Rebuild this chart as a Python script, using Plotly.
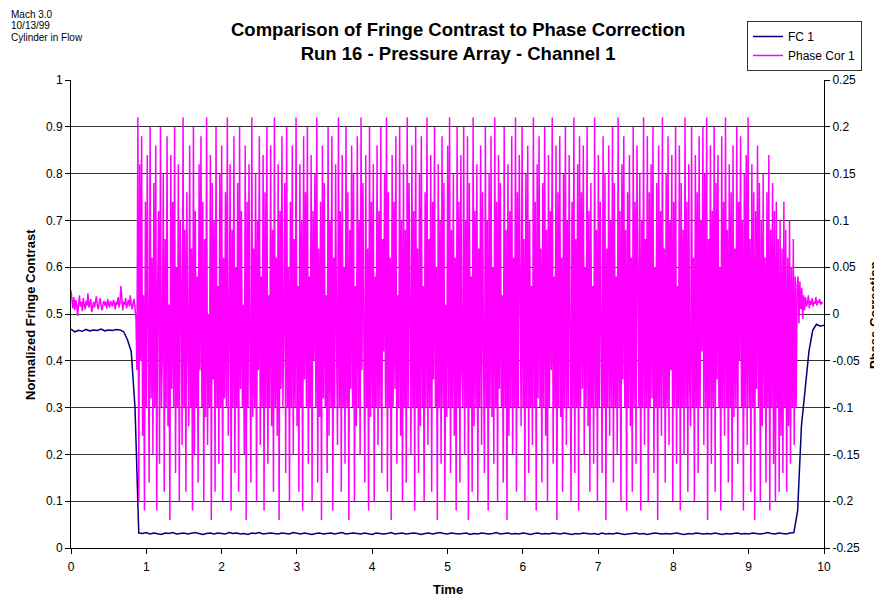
import numpy as np
import plotly.graph_objects as go

# ---------------- data ----------------
# FC 1 (Normalized Fringe Contrast), sampled every 0.05 time units from 0 to 10
fc_start = [0.468, 0.462, 0.465, 0.463, 0.467, 0.464, 0.466, 0.465, 0.468, 0.464,
            0.466, 0.465, 0.467, 0.466, 0.462, 0.445, 0.42, 0.3, 0.032]
fc_flat = [0.031, 0.033, 0.030, 0.032, 0.031, 0.029, 0.032, 0.031, 0.033, 0.030,
           0.031, 0.032, 0.030, 0.031, 0.033, 0.031, 0.029, 0.031, 0.032, 0.030,
           0.032, 0.031, 0.030, 0.033, 0.031, 0.032, 0.030, 0.031, 0.029, 0.032,
           0.031, 0.033, 0.030, 0.031, 0.032, 0.031, 0.030, 0.032, 0.031, 0.030,
           0.033, 0.031, 0.030, 0.032, 0.031, 0.029, 0.031, 0.032, 0.030, 0.031,
           0.032, 0.030, 0.031, 0.033, 0.030, 0.031, 0.032, 0.031, 0.030, 0.032,
           0.031, 0.029, 0.032, 0.031, 0.030, 0.031, 0.033, 0.030, 0.031, 0.032,
           0.030, 0.031, 0.032, 0.031, 0.029, 0.031, 0.032, 0.030, 0.031, 0.033,
           0.031, 0.030, 0.032, 0.031, 0.030, 0.031, 0.032, 0.029, 0.031, 0.030,
           0.032, 0.031, 0.030, 0.031, 0.033, 0.030, 0.031, 0.032, 0.030, 0.031,
           0.030, 0.032, 0.031, 0.029, 0.031, 0.032, 0.030, 0.031, 0.030, 0.032,
           0.031, 0.030, 0.032, 0.031, 0.029, 0.031, 0.030, 0.032, 0.031, 0.030,
           0.031, 0.029, 0.032, 0.030, 0.031, 0.030, 0.032, 0.031, 0.029, 0.030,
           0.031, 0.032, 0.030, 0.031, 0.029, 0.030, 0.032, 0.031, 0.030, 0.031,
           0.030, 0.031, 0.032, 0.030, 0.029, 0.031, 0.030, 0.032, 0.031, 0.030,
           0.031, 0.030, 0.032, 0.031, 0.029, 0.031, 0.030, 0.031, 0.032, 0.030,
           0.031, 0.030, 0.032, 0.031, 0.030, 0.031, 0.033, 0.031, 0.030, 0.032,
           0.031, 0.030, 0.032, 0.033]
fc_end = [0.08, 0.26, 0.34, 0.42, 0.465, 0.478, 0.474, 0.476]
fc1 = fc_start + fc_flat + fc_end

# Phase Cor 1 (Phase Correction), uniformly sampled from 0 to 9.98
phase_start = [
    0.025, 0.012, 0.006, 0.018, 0.004, 0.015, 0.01, -0.002, 0.014, 0.02,
    0.008, 0.013, 0.003, 0.017, 0.01, 0.005, 0.014, 0.009, 0.022, 0.007,
    0.011, 0.016, 0.002, 0.01, 0.013, 0.007, 0.015, 0.019, 0.009, 0.005,
    0.012, 0.017, 0.008, 0.004, 0.011, 0.014, 0.009, 0.013, 0.006, 0.016,
    0.01, 0.007, 0.014, 0.011, 0.008, 0.015, 0.012, 0.005, 0.013, 0.01,
    0.018, 0.007, 0.012, 0.03, 0.009, 0.004, 0.013, 0.01, 0.017, 0.006,
    0.011, 0.015, 0.008, 0.02, 0.01, 0.005, 0.012, 0.016, 0.006, -0.005,
]
phase_osc = [
    -0.06, 0.21, -0.2, 0.16, -0.05, 0.19, -0.13, 0.02, -0.21, 0.12, -0.1, 0.17, -0.02, -0.18, 0.2, -0.09, 0.06, -0.15,
    0.14, -0.1, 0.18, -0.21, 0.03, 0.11, -0.16, 0.2, -0.1, -0.04, 0.15, -0.19, 0.08, -0.1, 0.19, -0.12, 0.01, -0.22,
    0.17, -0.08, 0.12, -0.1, 0.2, -0.17, 0.05, -0.1, 0.16, -0.2, 0.1, 0.02, -0.14, 0.21, -0.1, 0.09, -0.19, 0.13,
    -0.03, -0.12, 0.18, -0.1, 0.07, -0.21, 0.2, -0.15, 0.11, -0.1, 0.04, -0.18, 0.16, -0.06, 0.19, -0.1, 0.12, -0.2,
    0.08, -0.11, 0.21, -0.14, 0.0, -0.1, 0.17, -0.22, 0.14, -0.07, 0.1, -0.19, 0.2, -0.1, 0.03, -0.16, 0.15, -0.1,
    0.18, -0.2, 0.06, -0.09, 0.13, -0.1, 0.21, -0.13, -0.02, 0.16, -0.21, 0.09, -0.1, 0.19, -0.17, 0.05, -0.1, 0.14,
    -0.19, 0.2, -0.08, 0.11, -0.1, 0.01, -0.15, 0.18, -0.22, 0.12, -0.1, 0.16, -0.04, -0.18, 0.21, -0.11, 0.07, -0.1,
    0.15, -0.2, 0.1, -0.06, 0.19, -0.14, 0.04, -0.1, 0.17, -0.21, 0.13, -0.1, 0.2, -0.16, 0.02, -0.1, 0.18, -0.12,
    0.09, -0.19, 0.21, -0.1, 0.06, -0.13, 0.16, -0.22, 0.11, -0.08, 0.19, -0.1, -0.01, 0.14, -0.17, 0.2, -0.1, 0.05,
    -0.2, 0.12, -0.1, 0.18, -0.15, 0.08, -0.1, 0.21, -0.12, 0.03, -0.19, 0.16, -0.1, 0.1, -0.21, 0.19, -0.07, 0.13,
    -0.1, 0.2, -0.16, 0.04, -0.1, 0.17, -0.2, 0.11, -0.05, 0.15, -0.1, 0.21, -0.18, 0.07, -0.11, 0.12, -0.22, 0.18,
    -0.09, 0.14, -0.1, 0.02, -0.17, 0.2, -0.13, 0.1, -0.1, 0.19, -0.21, 0.06, -0.1, 0.16, -0.03, -0.14, 0.21, -0.1,
    0.11, -0.19, 0.17, -0.1, 0.05, -0.16, 0.2, -0.1, 0.13, -0.22, 0.09, -0.08, 0.18, -0.1, 0.15, -0.2, 0.03, -0.12,
    0.19, -0.1, 0.1, -0.15, 0.21, -0.06, 0.14, -0.1, -0.18, 0.17, -0.1, 0.07, -0.21, 0.2, -0.11, 0.12, -0.1, 0.16,
    -0.2, 0.04, -0.1, 0.18, -0.14, 0.11, -0.1, 0.2, -0.17, 0.08, -0.04, 0.15, -0.1, 0.21, -0.19, 0.13, -0.1, 0.06,
    -0.22, 0.17, -0.1, 0.12, -0.08, 0.19, -0.16, 0.02, -0.1, 0.2, -0.13, 0.1, -0.2, 0.16, -0.1, 0.09, -0.18, 0.21,
    -0.1, 0.14, -0.05, -0.15, 0.18, -0.1, 0.11, -0.21, 0.2, -0.1, 0.07, -0.17, 0.15, -0.12, 0.19, -0.1, 0.03, -0.2,
    0.13, -0.1, 0.21, -0.14, 0.08, -0.1, 0.17, -0.19, 0.12, -0.07, 0.2, -0.1, 0.05, -0.22, 0.16, -0.1, 0.1, -0.16,
    0.19, -0.1, 0.14, -0.2, 0.01, -0.11, 0.18, -0.1, 0.21, -0.17, 0.09, -0.1, 0.15, -0.13, 0.06, -0.21, 0.2, -0.1,
    0.12, -0.18, 0.17, -0.06, -0.1, 0.2, -0.15, 0.1, -0.1, 0.19, -0.22, 0.14, -0.1, 0.04, -0.19, 0.21, -0.12, 0.11,
    -0.1, 0.16, -0.2, 0.07, -0.1, 0.18, -0.14, 0.13, -0.03, -0.17, 0.2, -0.1, 0.1, -0.21, 0.15, -0.1, 0.19, -0.11,
    0.05, -0.16, 0.21, -0.1, 0.12, -0.2, 0.17, -0.08, 0.14, -0.1, 0.02, -0.18, 0.2, -0.1, 0.09, -0.22, 0.16, -0.13,
    0.11, -0.1, 0.19, -0.15, 0.06, -0.1, 0.21, -0.19, 0.13, -0.1, 0.17, -0.05, -0.12, 0.2, -0.1, 0.08, -0.2, 0.15,
    -0.1, 0.18, -0.17, 0.1, -0.1, 0.03, -0.14, 0.21, -0.1, 0.12, -0.21, 0.16, -0.09, 0.19, -0.1, 0.07, -0.18, 0.14,
    -0.1, 0.2, -0.13, 0.09, -0.2, 0.17, -0.1, 0.11, -0.06, 0.21, -0.16, 0.04, -0.1, 0.18, -0.22, 0.13, -0.1, 0.19,
    -0.11, 0.06, -0.19, 0.15, -0.1, 0.2, -0.14, 0.1, -0.1, 0.17, -0.02, -0.2, 0.12, -0.1, 0.21, -0.17, 0.08, -0.1,
    0.16, -0.21, 0.19, -0.1, 0.13, -0.08, 0.18, -0.15, 0.05, -0.1, 0.2, -0.12, 0.11, -0.19, 0.14, -0.1, 0.03, -0.16,
    0.21, -0.1, 0.09, -0.2, 0.17, -0.1, 0.12, -0.05, -0.17, 0.19, -0.1, 0.15, -0.22, 0.07, -0.1, 0.18, -0.13, 0.1,
    -0.1, 0.2, -0.18, 0.14, -0.1, 0.04, -0.15, 0.21, -0.1, 0.11, -0.2, 0.16, -0.07, 0.19, -0.1, 0.09, -0.21, 0.13,
    -0.1, 0.17, -0.12, 0.06, -0.19, 0.2, -0.1, 0.12, -0.16, 0.18, -0.03, -0.1, 0.15, -0.21, 0.1, -0.1, 0.21, -0.14,
    0.08, -0.1, 0.19, -0.2, 0.13, -0.1, 0.16, -0.09, 0.2, -0.17, 0.05, -0.1, 0.14, -0.22, 0.18, -0.1, 0.11, -0.13,
    0.21, -0.1, 0.07, -0.18, 0.15, -0.1, 0.19, -0.14, 0.1, -0.06, 0.17, -0.2, 0.12, -0.1, 0.2, -0.16, 0.03, -0.1,
    0.18, -0.21, 0.14, -0.1, 0.09, -0.15, 0.21, -0.1, 0.12, -0.19, 0.16, -0.08, -0.12, 0.2, -0.1, 0.06, -0.2, 0.17,
    -0.1, 0.13, -0.17, 0.19, -0.1, 0.1, -0.04, 0.2, -0.14, 0.15, -0.1, 0.21, -0.22, 0.08, -0.1, 0.18, -0.16, 0.11,
    -0.1, 0.2, -0.19, 0.14, -0.07, 0.17, -0.1, 0.05, -0.21, 0.19, -0.1, 0.12, -0.13, 0.21, -0.1, 0.09, -0.18, 0.16,
    -0.1, 0.13, -0.2, 0.18, -0.11, 0.07, -0.1, 0.2, -0.16, 0.12, -0.05, 0.19, -0.1, 0.1, -0.21, 0.15, -0.1, 0.17,
    -0.14, 0.21, -0.1, 0.08, -0.19, 0.16, -0.1, 0.13, -0.22, 0.11, -0.08, 0.18, -0.1, 0.14, -0.2, 0.1, -0.12, 0.15,
    -0.1, 0.06, -0.18, 0.13, -0.1, 0.17, -0.21, 0.09, -0.1, 0.14, -0.16, 0.11, -0.2, 0.12, -0.1, 0.08, -0.19, 0.1,
    -0.13, 0.07, -0.17, 0.12, -0.1, 0.09, -0.19, 0.06, -0.12, 0.1, -0.16, 0.05, -0.1, 0.08, -0.14, 0.04, -0.1, 0.03,
]
phase_end = [
    0.04, -0.01, 0.035, 0.005, 0.028, -0.005, 0.02, 0.004, 0.018, 0.008,
    0.012, 0.02, 0.006, 0.014, 0.01, 0.017, 0.008, 0.013, 0.011, 0.018,
    0.009, 0.014, 0.012, 0.016, 0.01, 0.013, 0.011,
]
phase1 = phase_start + phase_osc + phase_end

# uniform sampling time bases
t_fc = np.linspace(0, 10, len(fc1))
t_phase = np.linspace(0, 9.98, len(phase1))

left_ticks = [0, 0.1, 0.2, 0.3, 0.4, 0.5, 0.6, 0.7, 0.8, 0.9, 1]
left_labels = ["0", "0.1", "0.2", "0.3", "0.4", "0.5", "0.6", "0.7", "0.8", "0.9", "1"]
right_ticks = [-0.25, -0.2, -0.15, -0.1, -0.05, 0, 0.05, 0.1, 0.15, 0.2, 0.25]
right_labels = ["-0.25", "-0.2", "-0.15", "-0.1", "-0.05", "0", "0.05", "0.1", "0.15", "0.2", "0.25"]
x_ticks = list(range(0, 11))

FONT = "Arial, Liberation Sans, sans-serif"

fig = go.Figure()
fig.add_trace(go.Scatter(x=t_fc, y=fc1, mode="lines", name="FC 1",
                         line=dict(color="#000080", width=1.5)))
fig.add_trace(go.Scatter(x=t_phase, y=phase1, mode="lines", name="Phase Cor 1",
                         line=dict(color="#FF00FF", width=1.5), yaxis="y2"))

# page-pixel geometry of the plot area (page has an 8px body margin)
OFF = 8
L, R, T, B = 71, 824, 80, 548
PW, PH = 882, 599
W, H = PW - OFF, PH - OFF

def px(xp):
    return (xp - L) / (R - L)

def py(yp):
    return (B - yp) / (B - T)

fig.update_layout(
    width=W, height=H,
    margin=dict(l=L - OFF, r=PW - R, t=T - OFF, b=PH - B, autoexpand=False),
    paper_bgcolor="white", plot_bgcolor="white",
    font=dict(family=FONT, size=12, color="black"),
    showlegend=True,
    legend=dict(x=px(747), y=py(21), xanchor="left", yanchor="top",
                bordercolor="#333", borderwidth=1, bgcolor="white",
                font=dict(size=12), tracegroupgap=0, itemwidth=30),
    xaxis=dict(range=[0, 10], tickvals=x_ticks, ticks="outside", ticklen=5,
               tickcolor="black", showgrid=False, zeroline=False,
               ticklabelstandoff=3,
               showline=True, linecolor="black", linewidth=1),
    yaxis=dict(range=[0, 1], tickvals=left_ticks, ticktext=left_labels,
               ticks="outside", ticklen=5, tickcolor="black",
               showgrid=True, gridcolor="#333", gridwidth=1, zeroline=False,
               showline=True, linecolor="black", linewidth=1),
    yaxis2=dict(range=[-0.25, 0.25], tickvals=right_ticks, ticktext=right_labels,
                overlaying="y", side="right", ticks="outside", ticklen=5,
                tickcolor="black", showgrid=False, zeroline=False,
                showline=True, linecolor="black", linewidth=1),
)

annots = [
    dict(text="<b>Comparison of Fringe Contrast to Phase Correction</b><br><b>Run 16 - Pressure Array - Channel 1</b>",
         x=px(458), y=py(41), xanchor="center", yanchor="middle",
         font=dict(size=18.5, family=FONT), showarrow=False),
    dict(text="Mach 3.0", x=px(9), y=py(14), xanchor="left", yanchor="middle",
         font=dict(size=10, family=FONT), showarrow=False),
    dict(text="10/13/99", x=px(9), y=py(25.5), xanchor="left", yanchor="middle",
         font=dict(size=10, family=FONT), showarrow=False),
    dict(text="Cylinder in Flow", x=px(9), y=py(37), xanchor="left", yanchor="middle",
         font=dict(size=10, family=FONT), showarrow=False),
    dict(text="<b>Normalized Fringe Contrast</b>", x=px(30), y=py(315),
         xanchor="center", yanchor="middle", textangle=-90,
         font=dict(size=13, family=FONT), showarrow=False),
    dict(text="<b>Time</b>", x=px(448), y=py(589), xanchor="center", yanchor="middle",
         font=dict(size=13, family=FONT), showarrow=False),
    dict(text="<b>Phase Correction</b>", x=px(874), y=py(315),
         xanchor="center", yanchor="middle", textangle=-90,
         font=dict(size=13, family=FONT), showarrow=False),
]
for a in annots:
    a["xref"] = "paper"
    a["yref"] = "paper"
fig.update_layout(annotations=annots)

fig.write_html("out.html")
